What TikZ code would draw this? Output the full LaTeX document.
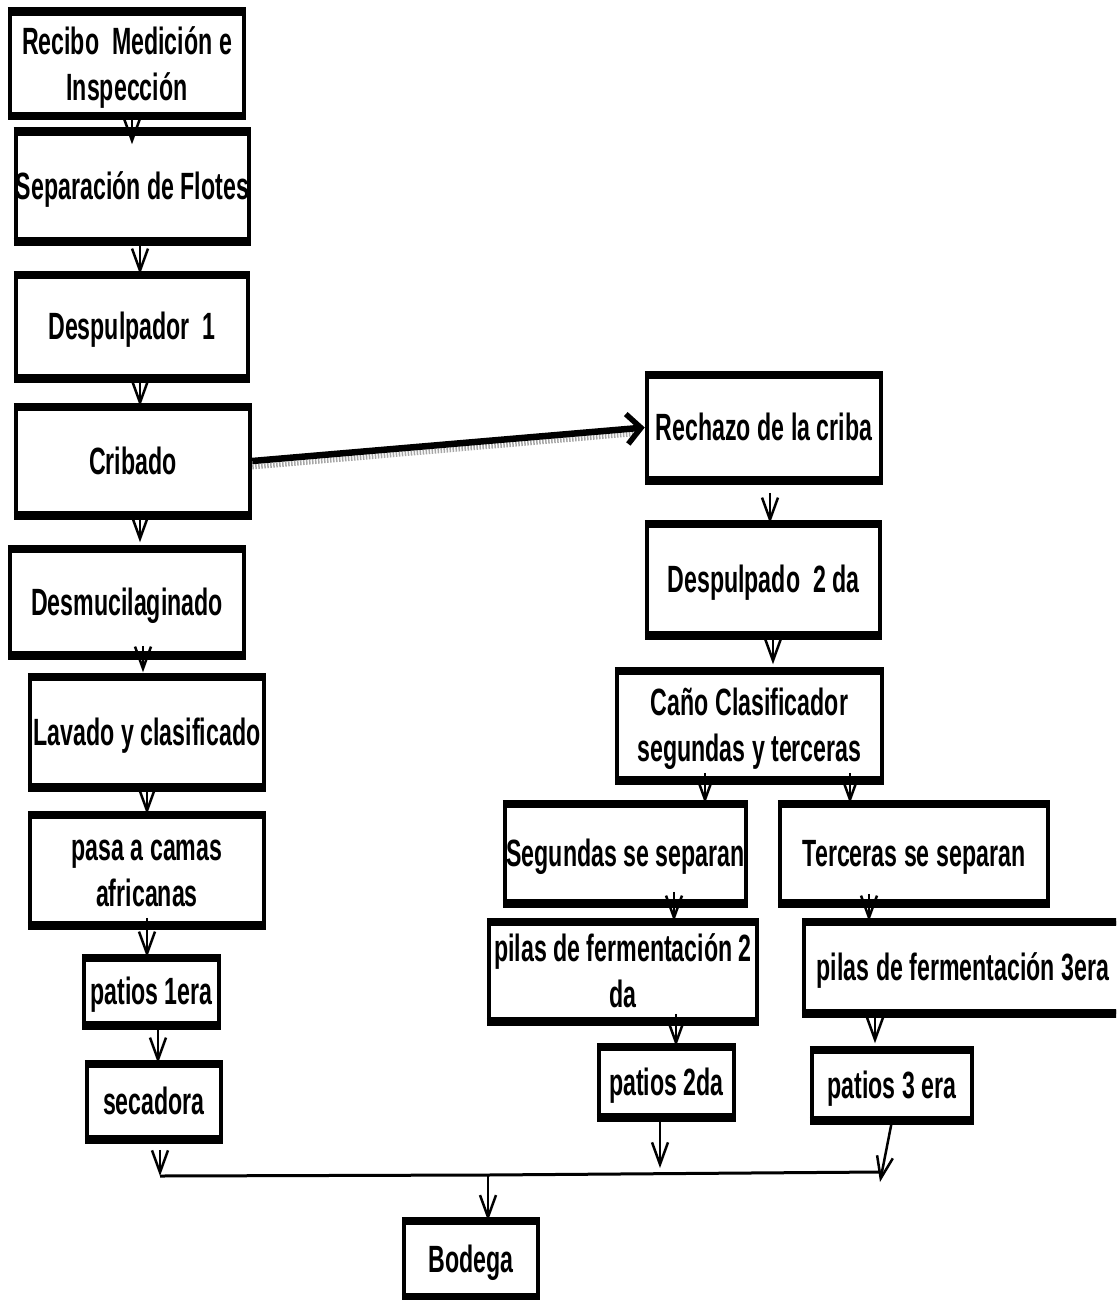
\documentclass[tikz,border=0pt]{standalone}
\usepackage{fontspec}
\newfontfamily\lab[FakeStretch=0.61]{Liberation Sans}
\usetikzlibrary{arrows.meta,calc}
\newcommand\lowtx[1]{\raisebox{-4pt}[\height][\depth]{\begin{tabular}{@{}c@{}}#1\end{tabular}}}
\tikzset{
  bx/.style 2 args={draw, line width=4.5pt, inner sep=0pt, align=center,
    minimum width=#1pt, minimum height=#2pt,
    font=\lab\bfseries\fontsize{38}{46}\selectfont},
  edgeln/.style={line width=7.5pt},
  arr/.style={line width=2.5pt, -{Straight Barb[length=22pt,width=16pt,line width=2.5pt]}},
  bigarr/.style={line width=6.5pt, -{Straight Barb[length=14pt,width=30pt,line width=5.5pt]}},
  shadowln/.style={line width=5pt, black!35, dash pattern=on 1.5pt off 1.5pt},
  mergeln/.style={line width=3pt}
}
\begin{document}
\begin{tikzpicture}[x=1pt,y=-1pt]
\useasboundingbox (0,0) rectangle (1116,1300);
\clip (0,0) rectangle (1116,1300);
% left column
\node[bx={234}{101}] (r1) at (127,64) {\lowtx{Recibo~ Medición e\\Inspección}};
\node[bx={233}{106}] (r2) at (132.5,186.5) {\lowtx{Separación de Flotes}};
\node[bx={232}{100}] (r3) at (132,326.5) {\lowtx{Despulpador~ 1}};
\node[bx={234}{105}] (r4) at (133,461) {\lowtx{Cribado}};
\node[bx={234}{103}] (r5) at (127,602) {\lowtx{Desmucilaginado}};
\node[bx={234}{107}] (r6) at (147,732) {\lowtx{Lavado y clasificado}};
\node[bx={234}{107}] (r7) at (147,870) {\lowtx{pasa a camas\\africanas}};
\node[bx={135}{64}] (r8) at (151.5,991.5) {\lowtx{patios 1era}};
\node[bx={134}{72}] (r9) at (154,1101.5) {\lowtx{secadora}};
\node[bx={134}{72}] (bod) at (471,1259) {\lowtx{Bodega}};
% right column
\node[bx={234}{102}] (c1) at (764,427.5) {\lowtx{Rechazo de la criba}};
\node[bx={233}{108}] (c2) at (763.5,579.5) {\lowtx{Despulpado~ 2 da}};
\node[bx={265}{106}] (c3) at (749.5,725.5) {\lowtx{Caño Clasificador\\segundas y terceras}};
\node[bx={241}{96}] (c4) at (625.5,853.5) {\lowtx{Segundas se separan}};
\node[bx={268}{96}] (c5) at (914,853.5) {\lowtx{Terceras se separan}};
\node[bx={268}{96}] (c6) at (623,971.5) {\lowtx{pilas de fermentación 2\\da}};
\node[bx={318}{88}] (c7) at (963,967.5) {\lowtx{pilas de fermentación 3era}};
\node[bx={135}{67}] (c8) at (666.5,1082) {\lowtx{patios 2da}};
\node[bx={160}{67}] (c9) at (892,1085) {\lowtx{patios 3 era}};
% heavier top and bottom edges of every box
\foreach \n in {r1,r2,r3,r4,r5,r6,r7,r8,r9,bod,c1,c2,c3,c4,c5,c6,c7,c8,c9}{
  \draw[edgeln] (\n.north west) -- (\n.north east);
  \draw[edgeln] (\n.south west) -- (\n.south east);
}
% merge coordinates
\coordinate (m1) at (160,1176);
\coordinate (m2) at (488,1175);
\coordinate (m3) at (660,1168);
\coordinate (m4) at (880,1172);
\coordinate (m5) at (880,1182);
% left arrows
\draw[arr] (r1.south -| 132,0) -- ($(r2.north -| 132,0)+(0,13)$);
\draw[arr] (r2.south -| 140,0) -- (r3.north -| 140,0);
\draw[arr] (r3.south -| 140,0) -- (r4.north -| 140,0);
\draw[arr] (r4.south -| 140,0) -- ($(r5.north -| 140,0)+(0,-6)$);
\draw[arr] ($(r5.south -| 143,0)+(0,-10)$) -- ($(r6.north -| 143,0)+(0,-4)$);
\draw[arr] (r6.south -| 147,0) -- (r7.north -| 147,0);
\draw[arr] ($(r7.south -| 147,0)+(0,-8)$) -- (r8.north -| 147,0);
\draw[arr] (r8.south -| 158,0) -- (r9.north -| 158,0);
\draw[arr] ($(r9.south -| 160,0)+(0,10)$) -- (m1);
% cribado to rechazo
\draw[shadowln] ($(r4.east)+(0,6)$) -- ($(c1.west)+(-8,6)$);
\draw[bigarr] (r4.east) -- (c1.west);
% right arrows
\draw[arr] ($(c1.south -| 770,0)+(0,12)$) -- (c2.north -| 770,0);
\draw[arr] (c2.south -| 773,0) -- ($(c3.north -| 773,0)+(0,-6)$);
\draw[arr] ($(c3.south -| 705,0)+(0,-8)$) -- (c4.north -| 705,0);
\draw[arr] ($(c3.south -| 850,0)+(0,-8)$) -- (c5.north -| 850,0);
\draw[arr] ($(c4.south -| 674,0)+(0,-12)$) -- (c6.north -| 674,0);
\draw[arr] ($(c5.south -| 869,0)+(0,-10)$) -- (c7.north -| 869,0);
\draw[arr] ($(c6.south -| 676,0)+(0,-8)$) -- (c8.north -| 676,0);
\draw[arr] (c7.south -| 875,0) -- ($(c9.north -| 875,0)+(0,-6)$);
% merge
\draw[mergeln] (m1) -- (m2) -- (m4);
\draw[arr] (c8.south -| m3) -- (m3);
\draw[arr] (c9.south -| 892,0) -- (m5);
\draw[arr] (m2) -- (bod.north -| m2);
\end{tikzpicture}
\end{document}
